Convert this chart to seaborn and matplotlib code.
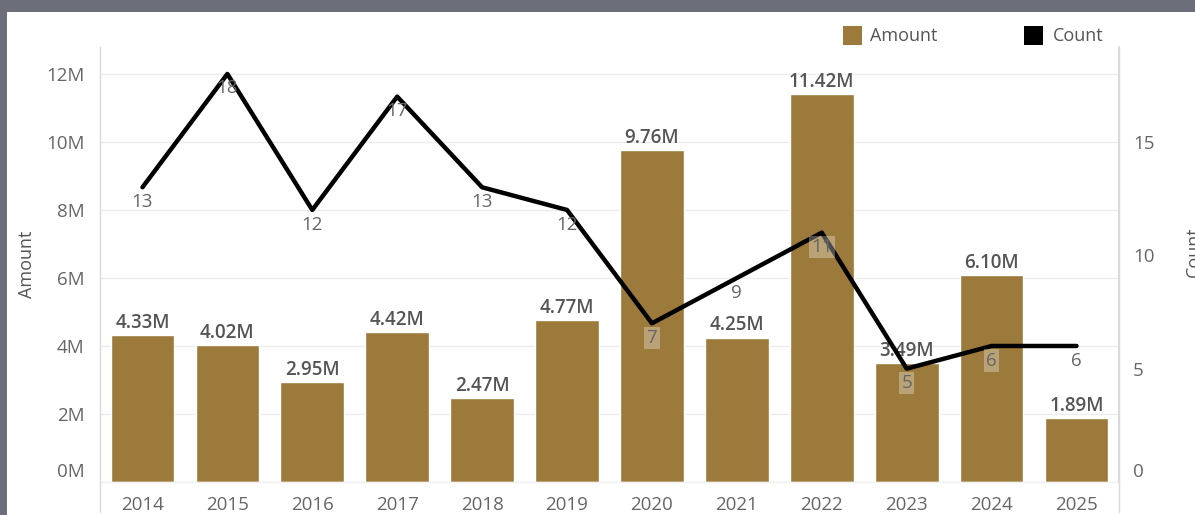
import numpy as np
import pandas as pd
import matplotlib
matplotlib.use("Agg")
import matplotlib.pyplot as plt
from matplotlib.patches import Rectangle
from matplotlib.lines import Line2D
from matplotlib.transforms import ScaledTranslation
import seaborn as sns

years = ["2014", "2015", "2016", "2017", "2018", "2019",
         "2020", "2021", "2022", "2023", "2024", "2025"]
amounts = [4.33, 4.02, 2.95, 4.42, 2.47, 4.77, 9.76, 4.25, 11.42, 3.49, 6.10, 1.89]  # millions
counts = [13, 18, 12, 17, 13, 12, 7, 9, 11, 5, 6, 6]
amount_ticks = [0, 2, 4, 6, 8, 10, 12]
count_ticks = [0, 5, 10, 15]

BAR = "#9c7a3b"
TXT = "#666666"
FONT = "Open Sans"

sns.set_theme(style="white")
plt.rcParams["font.family"] = [FONT, "DejaVu Sans"]

W, H = 1195, 515
fig = plt.figure(figsize=(W / 100, H / 100), dpi=100)
fig.patch.set_facecolor("#6c6f79")
fig.add_artist(Rectangle((7 / W, 0), 1, (H - 12) / H, transform=fig.transFigure,
                         facecolor="white", edgecolor="none", zorder=-10))

left, right, top, bottom = 100, 1119, 47, 482
ax = fig.add_axes([left / W, 1 - bottom / H, (right - left) / W, (bottom - top) / H])
ax.set_facecolor("none")

df = pd.DataFrame({"Year": years, "Amount": amounts, "Count": counts})
sns.barplot(data=df, x="Year", y="Amount", color=BAR, width=0.75, saturation=1,
            ax=ax, zorder=2)
ax.set_ylim(0, 435 / 34)
ax.set_xlim(-0.5, len(years) - 0.5)
ax.set_yticks(amount_ticks)
ax.set_yticklabels([f"{t}M" for t in amount_ticks])
ax.grid(axis="y", color="#ececec", linewidth=1, zorder=0)
ax.grid(axis="x", visible=False)
ax.tick_params(axis="y", length=0, pad=11, labelsize=13.5, labelcolor=TXT)
ax.tick_params(axis="x", length=0, pad=10, labelsize=13.5, labelcolor=TXT)
ax.set_xlabel("")
ax.set_ylabel("Amount", fontsize=13, color="#555555")
ax.yaxis.set_label_coords(-64 / (right - left), 0.5)
ax.spines["top"].set_visible(False)
for s in ["left", "right", "bottom"]:
    ax.spines[s].set_color("#d9d9d9")
    ax.spines[s].set_linewidth(1)
ax.spines["bottom"].set_color("#f0f0f0")

# amount labels above the bars
for i, v in enumerate(amounts):
    ax.annotate(f"{v:.2f}M", (i, v), xytext=(0, 1.5), textcoords="offset points",
                ha="center", va="bottom", fontsize=13.5, color="#555555",
                fontweight="semibold", zorder=5)

# count line on the secondary axis
ax2 = ax.twinx()
sns.lineplot(x=np.arange(len(years)), y=counts, color="black", linewidth=3.2,
             ax=ax2, zorder=4)
ax2.set_ylim(0, 435 / 22.67)
ax2.set_yticks(count_ticks)
ax2.tick_params(axis="y", length=0, pad=10, labelsize=13.5, labelcolor=TXT)
ax2.set_ylabel("Count", fontsize=13, color="#555555", rotation=90)
ax2.yaxis.set_label_coords(1 + 75 / (right - left), 0.53)
ax2.yaxis.label.set_va("center")
for s in ["top", "left", "bottom"]:
    ax2.spines[s].set_visible(False)
ax2.spines["right"].set_color("#d9d9d9")

for i, c in enumerate(counts):
    on_bar = amounts[i] * 34 > c * 22.67 - 20
    box = dict(boxstyle="square,pad=0.12", facecolor="white", alpha=0.3,
               edgecolor="none") if on_bar else None
    ax2.annotate(str(c), (i, c), xytext=(0, -4), textcoords="offset points",
                 ha="center", va="top", fontsize=13.5, color=TXT,
                 bbox=box, zorder=6)

# lift the zero labels clear of the baseline
fig.canvas.draw()
lift = ScaledTranslation(0, 12 / 100, fig.dpi_scale_trans)
for axis in (ax.yaxis, ax2.yaxis):
    t0 = axis.get_major_ticks()[0]
    t0.label1.set_transform(t0.label1.get_transform() + lift)
    t0.label2.set_transform(t0.label2.get_transform() + lift)

# axis lines continue through the year header band
for xp in (left, right):
    fig.add_artist(Line2D([xp / W, xp / W], [1 - 512 / H, 1 - bottom / H],
                          transform=fig.transFigure, color="#d9d9d9", linewidth=1))

# legend
fig.add_artist(Rectangle((843 / W, 1 - 45 / H), 19 / W, 19 / H, transform=fig.transFigure,
                         facecolor=BAR, edgecolor="none"))
fig.text(870 / W, 1 - 36 / H, "Amount", fontsize=13, color="#555555", va="center", ha="left")
fig.add_artist(Rectangle((1024 / W, 1 - 45 / H), 19 / W, 19 / H, transform=fig.transFigure,
                         facecolor="black", edgecolor="none"))
fig.text(1053 / W, 1 - 36 / H, "Count", fontsize=13, color="#555555", va="center", ha="left")

fig.savefig("out.png", dpi=100)
